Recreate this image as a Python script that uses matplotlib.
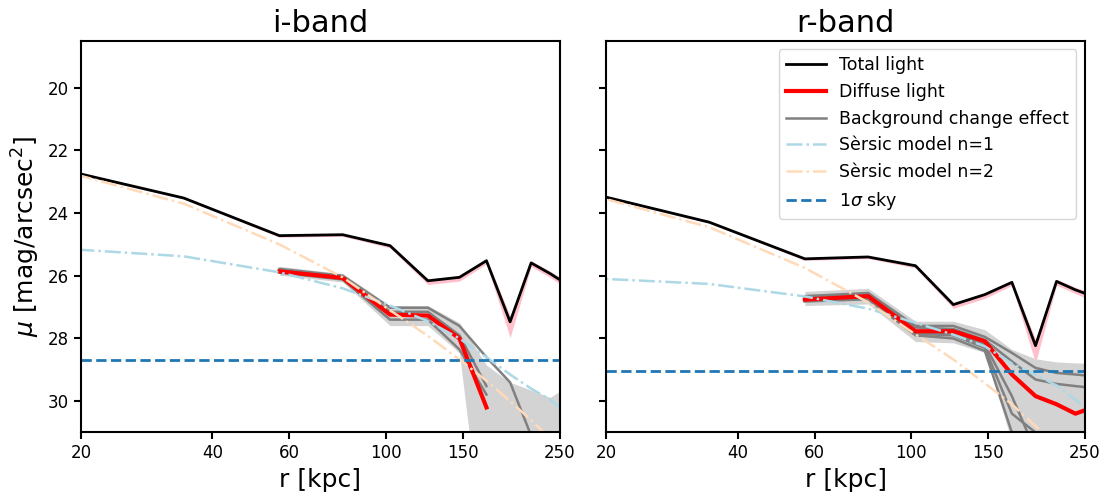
import numpy as np
import matplotlib
matplotlib.use("Agg")
import matplotlib.pyplot as plt
from matplotlib.ticker import NullLocator

nan = np.nan

# radial bins [kpc], same for both bands
r_kpc = [11.8, 34.4, 57.0, 79.6, 102.2, 124.8, 147.4, 170.0, 192.6, 215.2, 237.8, 260.4]

# ---------------- i-band ----------------
i_total = [22.01, 23.52, 24.72, 24.69, 25.04, 26.16, 26.05, 25.52, 27.47, 25.59, 25.93, 26.28]
i_total_up = [0.03, 0.03, 0.03, 0.03, 0.04, 0.05, 0.06, 0.06, 0.20, 0.07, 0.08, 0.10]
i_total_dn = [0.03, 0.03, 0.05, 0.05, 0.07, 0.12, 0.12, 0.10, 0.50, 0.12, 0.12, 0.15]
i_diffuse = [nan, nan, 25.86, 26.07, 27.24, 27.27, 28.00, 30.20, nan, nan, nan, nan]
i_bkg = [
    [nan, nan, 25.78, 26.00, 27.02, 27.02, 27.60, 28.60, 29.40, 31.10, 32.5, 33.5],
    [nan, nan, 25.84, 26.05, 27.15, 27.15, 27.90, 29.52, nan, nan, nan, nan],
    [nan, nan, 25.90, 26.12, 27.40, 27.40, 28.35, 29.79, nan, nan, nan, nan],
]
i_bkg_top = [nan, nan, 25.70, 25.93, 26.95, 26.95, 27.50, 28.85, 29.40, 29.65, 29.88, 29.55]
i_bkg_bot = [nan, nan, 25.98, 26.20, 27.59, 27.59, 28.46, 35.5, 36.0, 36.0, 36.0, 36.0]
i_sersic1 = [24.97, 25.38, 25.89, 26.40, 26.95, 27.45, 28.00, 28.60, 29.15, 29.60, 29.95, 30.40]
i_sersic2 = [21.95, 23.70, 25.00, 26.05, 27.10, 27.92, 28.67, 29.35, 30.00, 30.61, 31.19, 31.74]
i_sky = 28.70

# ---------------- r-band ----------------
r_total = [22.72, 24.29, 25.46, 25.40, 25.68, 26.92, 26.60, 26.21, 28.23, 26.18, 26.45, 26.65]
r_total_up = [0.03, 0.03, 0.03, 0.03, 0.04, 0.05, 0.06, 0.06, 0.20, 0.07, 0.08, 0.10]
r_total_dn = [0.03, 0.03, 0.05, 0.05, 0.07, 0.12, 0.12, 0.10, 0.55, 0.12, 0.12, 0.15]
r_diffuse = [nan, nan, 26.76, 26.65, 27.77, 27.77, 28.09, 29.15, 29.84, 30.10, 30.40, 30.20]
r_bkg = [
    [nan, nan, 26.65, 26.55, 27.60, 27.60, 27.95, 28.46, 28.94, 29.10, 29.15, 29.20],
    [nan, nan, 26.70, 26.60, 27.65, 27.70, 28.05, 28.73, 29.31, 29.45, 29.52, 29.58],
    [nan, nan, 26.75, 26.65, 27.80, 27.85, 28.20, 29.84, 31.60, nan, nan, nan],
    [nan, nan, 26.80, 26.70, 27.85, 27.90, 28.30, 30.40, 31.00, 32.00, nan, nan],
    [nan, nan, 26.82, 26.75, 27.90, 28.00, 28.40, 31.00, 32.50, nan, nan, nan],
]
r_bkg_top = [nan, nan, 26.50, 26.40, 27.45, 27.45, 27.72, 28.35, 28.65, 28.75, 28.78, 28.80]
r_bkg_bot = [nan, nan, 26.95, 26.90, 28.10, 28.14, 28.45, 31.30, 34.0, 34.0, 34.0, 34.0]
r_sersic1 = [25.95, 26.26, 26.66, 27.05, 27.50, 27.88, 28.25, 28.80, 29.15, 29.50, 29.95, 30.40]
r_sersic2 = [22.69, 24.45, 25.75, 26.85, 27.87, 28.67, 29.43, 30.10, 30.80, 31.40, 31.95, 32.50]
r_sky = 29.05

xticks = [20, 40, 60, 100, 150, 250]
yticks = [20, 22, 24, 26, 28, 30]

plt.rcParams['axes.linewidth'] = 1.5

fig, axes = plt.subplots(1, 2, figsize=(11.08, 4.95), dpi=100, sharey=True)
fig.subplots_adjust(left=0.0731, right=0.9792, bottom=0.1263, top=0.9178, wspace=0.098)


def draw_band(ax, total, up, dn, diffuse, bkg, bkg_top, bkg_bot, s1, s2, sky, title):
    r = np.array(r_kpc)
    tot = np.array(total)
    ax.fill_between(r, tot - np.array(up), tot + np.array(dn), color='pink', lw=0)
    ax.plot(r, tot, color='black', lw=2, label='Total light')
    ax.fill_between(r, bkg_top, bkg_bot, color='lightgray', lw=0)
    for k, b in enumerate(bkg):
        ax.plot(r, b, color='gray', lw=1.8,
                label='Background change effect' if k == 0 else None)
    ax.plot(r, diffuse, color='red', lw=3, label='Diffuse light')
    ax.plot(r, s1, color='lightblue', ls='-.', lw=1.8, label='Sèrsic model n=1')
    ax.plot(r, s2, color='peachpuff', ls='-.', lw=1.8, label='Sèrsic model n=2')
    ax.axhline(sky, color='C0', ls='--', lw=2, label=r'1$\sigma$ sky')

    ax.set_xscale('log')
    ax.set_xlim(20, 250)
    ax.set_ylim(31, 18.5)
    ax.set_xticks(xticks)
    ax.set_xticklabels([str(t) for t in xticks])
    ax.xaxis.set_minor_locator(NullLocator())
    ax.set_yticks(yticks)
    ax.tick_params(labelsize=12, width=1.5, length=5)
    ax.set_xlabel('r [kpc]', fontsize=18)
    ax.set_title(title, fontsize=22)


draw_band(axes[0], i_total, i_total_up, i_total_dn, i_diffuse, i_bkg, i_bkg_top,
          i_bkg_bot, i_sersic1, i_sersic2, i_sky, 'i-band')
draw_band(axes[1], r_total, r_total_up, r_total_dn, r_diffuse, r_bkg, r_bkg_top,
          r_bkg_bot, r_sersic1, r_sersic2, r_sky, 'r-band')

axes[0].set_ylabel(r'$\mu$ [mag/arcsec$^2$]', fontsize=18)

handles, labels = axes[1].get_legend_handles_labels()
order = ['Total light', 'Diffuse light', 'Background change effect',
         'Sèrsic model n=1', 'Sèrsic model n=2', r'1$\sigma$ sky']
hmap = dict(zip(labels, handles))
axes[1].legend([hmap[l] for l in order], order, loc='upper right', fontsize=12.5,
               handlelength=2.3)

fig.savefig('out.png', dpi=100)
